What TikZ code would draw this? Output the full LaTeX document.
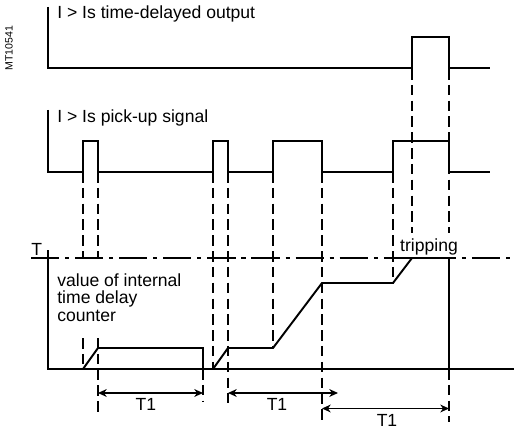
\documentclass[tikz,border=0pt]{standalone}
\usepackage{fontspec}
\setmainfont{Liberation Sans}
\usetikzlibrary{arrows.meta}

\tikzset{
  sig/.style={line width=1.1pt,line join=miter},
  guide/.style={line width=0.6pt,dash pattern=on 6pt off 3pt},
  tlevel/.style={line width=0.6pt,dash pattern=on 16pt off 3.4pt on 2.3pt off 3.4pt},
  span/.style={line width=0.6pt,{Stealth[length=5pt,width=4.5pt,inset=1.6pt]}-{Stealth[length=5pt,width=4.5pt,inset=1.6pt]}},
  lab/.style={inner sep=0pt,anchor=base west,font=\fontsize{10}{10}\selectfont},
  tlab/.style={inner sep=0pt,anchor=base,font=\fontsize{10}{10}\selectfont}
}

\begin{document}
\begin{tikzpicture}[x=0.02cm,y=-0.02cm]
\useasboundingbox (0,0) rectangle (514,429);
% reference tag
\node[inner sep=0pt,rotate=90,font=\fontsize{6}{6}\selectfont] (tag) at (9,48) {MT10541};
% time-delayed output
\node[lab] (outlab) at (57,19) {I > Is time-delayed output};
\draw[sig] (48,7) |- (412,68) |- (449,37) |- (490,68);
% pick-up signal
\node[lab] (pulab) at (57,123) {I > Is pick-up signal};
\draw[sig] (48,110) |- (83,172) |- (98,141) |- (213,172) |- (228,141) |- (273,172) |- (322,141) |- (393,172) |- (449,141) |- (490,172);
% guides
\foreach \x/\ya/\yb in {83/172/258,83/338/369,98/172/258,98/338/415,203/369/402,213/172/369,228/172/403,273/172/348,322/172/420,393/172/283,412/69/233,449/69/233,449/369/422}{\draw[guide] (\x,\ya)--(\x,\yb);}
% counter
\draw[tlevel] (31,258)--(514,258);
\node[lab] (tlab) at (31,255) {T};
\node[inner sep=0pt,anchor=north west,align=left,font=\fontsize{10}{10}\selectfont] (cntlab) at (57,273) {value of internal\\time delay\\counter};
\node[tlab] (triplab) at (429,251.5) {tripping};
\draw[sig] (48,250) |- (514,369);
\draw[sig] (83,369)--(98,348)--(203,348)--(203,369);
\draw[sig] (213,369)--(228,348)--(273,348)--(322,283)--(393,283)--(412,258)--(449,258)--(449,369);
% T1 spans
\draw[span] (98,393)--(203,393);
\node[tlab] (ta) at (146,410) {T1};
\draw[span] (228,393)--(338,393);
\node[tlab] (tb) at (277,410) {T1};
\draw[span] (322,408.5)--(449,408.5);
\node[tlab] (tc) at (387,426.5) {T1};
\end{tikzpicture}
\end{document}
